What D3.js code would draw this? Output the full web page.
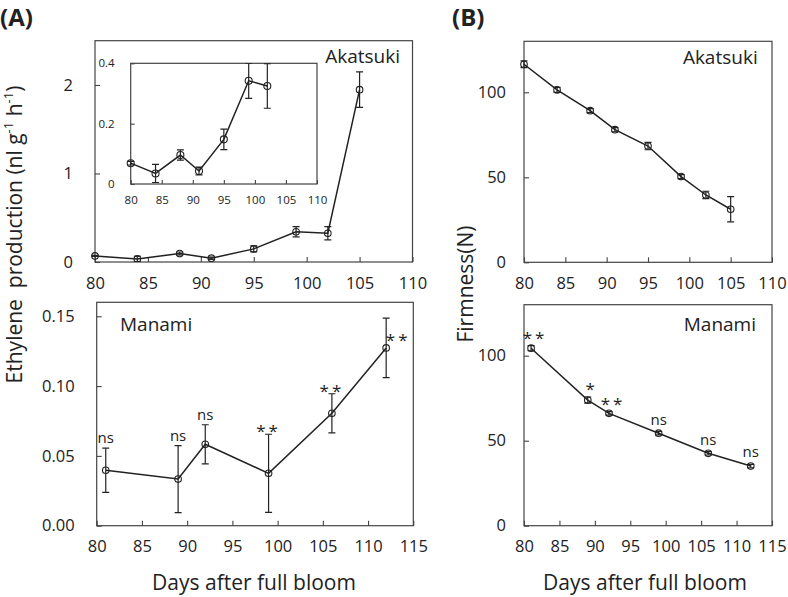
<!DOCTYPE html>
<html><head><meta charset="utf-8">
<script src="https://cdn.jsdelivr.net/npm/d3@7"></script>
<style>
body{margin:0;background:#fff}
svg{font-family:"Open Sans",sans-serif}
</style>
</head><body>
<svg id="c" width="788" height="597"></svg>
<script>
// ---------- data ----------
const akDays = [80, 84, 88, 91, 95, 99, 102, 105];
const akEthylene = [0.069, 0.035, 0.096, 0.043, 0.148, 0.342, 0.325, 1.947];
const akEthyleneErr = [0.006, 0.030, 0.017, 0.013, 0.034, 0.058, 0.074, 0.200];
const insetDays = [80, 84, 88, 91, 95, 99, 102];
const insetEthylene = [0.069, 0.035, 0.096, 0.043, 0.148, 0.342, 0.325];
const insetEthyleneErr = [0.006, 0.030, 0.017, 0.013, 0.034, 0.058, 0.074];

const mnDays = [81, 89, 92, 99, 106, 112];
const mnEthylene = [0.0397, 0.0334, 0.0583, 0.0375, 0.0805, 0.1273];
const mnEthyleneErr = [0.0158, 0.0240, 0.0140, 0.0280, 0.0140, 0.0213];
const mnEthyleneSig = ["ns", "ns", "ns", "**", "**", "**"];

const akFirmness = [116.5, 101.4, 89.2, 78.0, 68.4, 50.4, 39.6, 31.2];
const akFirmnessErr = [2.0, 1.5, 1.2, 1.2, 2.2, 1.2, 2.2, 7.4];
const mnFirmness = [104.4, 73.9, 66.1, 54.4, 42.6, 35.1];
const mnFirmnessErr = [1.5, 1.8, 1.0, 1.0, 1.0, 1.0];
const mnFirmnessSig = ["**", "*", "**", "ns", "ns", "ns"];

const xTicks110 = [80, 85, 90, 95, 100, 105, 110];
const xTicks115 = [80, 85, 90, 95, 100, 105, 110, 115];
const akEthTicks = [0, 1, 2];
const insetTicks = [0, 0.2, 0.4];
const mnEthTicks = [0, 0.05, 0.10, 0.15];
const firmTicks = [0, 50, 100];

// ---------- drawing ----------
const svg = d3.select("#c");
const INK = "#222";
let clipId = 0;

function panel(o) {
  const x = d3.scaleLinear().domain(o.xd).range(o.xr);
  const y = d3.scaleLinear().domain(o.yd).range(o.yr);
  const g = svg.append("g");
  const cid = "clip" + (clipId++);
  g.append("clipPath").attr("id", cid).append("rect")
    .attr("x", o.xr[0] - 10).attr("y", o.yr[1])
    .attr("width", o.xr[1] - o.xr[0] + 20).attr("height", o.yr[0] - o.yr[1]);
  g.append("rect")
    .attr("x", o.xr[0]).attr("y", o.yr[1])
    .attr("width", o.xr[1] - o.xr[0]).attr("height", o.yr[0] - o.yr[1])
    .attr("fill", "#fff").attr("stroke", "#444").attr("stroke-width", 1.2);

  const xa = g.append("g").attr("transform", `translate(0,${o.yr[0]})`)
    .call(d3.axisBottom(x).tickValues(o.xt).tickSize(-o.tick).tickPadding(o.xpad).tickFormat(d3.format("d")));
  const ya = g.append("g").attr("transform", `translate(${o.xr[0]},0)`)
    .call(d3.axisLeft(y).tickValues(o.yt).tickSize(-o.tick).tickPadding(o.ypad).tickFormat(o.yfmt));
  [xa, ya].forEach(a => {
    a.select(".domain").remove();
    a.selectAll("line").attr("stroke", "#444").attr("stroke-width", 1.1);
    a.selectAll("text").attr("fill", INK).style("font-size", o.fs + "px").style("font-family", '"Open Sans",sans-serif');
  });

  const pts = o.days.map((d, i) => ({ d, v: o.vals[i], e: o.errs[i] }));
  const dg = g.append("g").attr("clip-path", `url(#${cid})`);
  dg.append("path").datum(pts)
    .attr("d", d3.line().x(p => x(p.d)).y(p => y(p.v)))
    .attr("fill", "none").attr("stroke", INK).attr("stroke-width", 1.5);
  const eb = dg.selectAll(".eb").data(pts).enter().append("g");
  eb.append("line").attr("x1", p => x(p.d)).attr("x2", p => x(p.d))
    .attr("y1", p => y(p.v - p.e)).attr("y2", p => y(p.v + p.e))
    .attr("stroke", INK).attr("stroke-width", 1.2);
  [-1, 1].forEach(s => {
    eb.append("line").attr("x1", p => x(p.d) - o.cap).attr("x2", p => x(p.d) + o.cap)
      .attr("y1", p => y(p.v + s * p.e)).attr("y2", p => y(p.v + s * p.e))
      .attr("stroke", INK).attr("stroke-width", 1.2);
  });
  dg.selectAll(".pt").data(pts).enter().append("circle")
    .attr("cx", p => x(p.d)).attr("cy", p => y(p.v)).attr("r", o.r)
    .attr("fill", "none").attr("stroke", INK).attr("stroke-width", 1.1);

  if (o.sig) {
    pts.forEach((p, i) => {
      const s = o.sig[i];
      const star = s !== "ns";
      let tx = x(p.d) + (star ? o.starDx : 0);
      let ty;
      if (o.sigRight && i === pts.length - 1) {
        tx = x(p.d) + 12; ty = y(p.v) - 2;
      } else {
        ty = y(p.v + p.e) - (star ? o.starOff : o.nsOff);
      }
      g.append("text").attr("x", tx).attr("y", ty)
        .attr("text-anchor", "middle").attr("fill", INK)
        .style("font-size", (star ? 17 : 15) + "px")
        .style("letter-spacing", star ? "3px" : "0px")
        .text(s);
    });
  }
  if (o.name) {
    g.append("text").attr("x", o.nameX).attr("y", o.nameY)
      .attr("text-anchor", o.nameAnchor).attr("fill", INK)
      .style("font-size", "19px").text(o.name);
  }
  return { x, y };
}

// Panel A top
panel({ xd: [80, 110], xr: [95, 412.5], yd: [0, 2.5], yr: [262, 40.7],
  xt: xTicks110, yt: akEthTicks, yfmt: d3.format("d"), tick: 5, xpad: 15, ypad: 22, fs: 16.5,
  days: akDays, vals: akEthylene, errs: akEthyleneErr, r: 3.3, cap: 3.5,
  name: "Akatsuki", nameX: 400, nameY: 62.7, nameAnchor: "end" });

// Inset
panel({ xd: [80, 110], xr: [130.7, 317], yd: [0, 0.4], yr: [184, 63.3],
  xt: xTicks110, yt: insetTicks, yfmt: d => d === 0 ? "0" : d3.format(".1f")(d), tick: 4, xpad: 12, ypad: 16, fs: 11.5,
  days: insetDays, vals: insetEthylene, errs: insetEthyleneErr, r: 3.5, cap: 3.5 });

// Panel A bottom
panel({ xd: [80, 115], xr: [96.7, 413.3], yd: [0, 0.16], yr: [525.7, 302.3],
  xt: xTicks115, yt: mnEthTicks, yfmt: d3.format(".2f"), tick: 5, xpad: 15, ypad: 22, fs: 16.5,
  days: mnDays, vals: mnEthylene, errs: mnEthyleneErr, r: 3.3, cap: 3.5,
  sig: mnEthyleneSig, nsOff: 5, starOff: -3, starDx: 0, sigRight: true,
  name: "Manami", nameX: 120, nameY: 330.7, nameAnchor: "start" });

// Panel B top
panel({ xd: [80, 110], xr: [524, 772], yd: [0, 130], yr: [262.3, 41.3],
  xt: xTicks110, yt: firmTicks, yfmt: d3.format("d"), tick: 5, xpad: 15, ypad: 18, fs: 16.5,
  days: akDays, vals: akFirmness, errs: akFirmnessErr, r: 3.3, cap: 3.5,
  name: "Akatsuki", nameX: 757.7, nameY: 64, nameAnchor: "end" });

// Panel B bottom
panel({ xd: [80, 115], xr: [524, 772], yd: [0, 130], yr: [525.7, 304.7],
  xt: xTicks115, yt: firmTicks, yfmt: d3.format("d"), tick: 5, xpad: 15, ypad: 18, fs: 16.5,
  days: mnDays, vals: mnFirmness, errs: mnFirmnessErr, r: 3.3, cap: 3.5,
  sig: mnFirmnessSig, nsOff: 7, starOff: 2, starDx: 4, sigRight: false,
  name: "Manami", nameX: 756, nameY: 330.7, nameAnchor: "end" });

// Axis titles
const yt1 = svg.append("text").attr("transform", "translate(21.7,234.5) rotate(-90)")
  .attr("text-anchor", "middle").attr("fill", INK).style("font-size", "21px").style("white-space", "pre");
yt1.append("tspan").text("Ethylene  production (nl g");
yt1.append("tspan").attr("baseline-shift", "super").style("font-size", "13px").text("-1");
yt1.append("tspan").text(" h");
yt1.append("tspan").attr("baseline-shift", "super").style("font-size", "13px").text("-1");
yt1.append("tspan").text(")");

svg.append("text").attr("transform", "translate(473.3,284) rotate(-90)")
  .attr("text-anchor", "middle").attr("fill", INK).style("font-size", "21px").text("Firmness(N)");

svg.append("text").attr("x", 254).attr("y", 590).attr("text-anchor", "middle")
  .attr("fill", INK).style("font-size", "21px").text("Days after full bloom");
svg.append("text").attr("x", 645).attr("y", 590).attr("text-anchor", "middle")
  .attr("fill", INK).style("font-size", "21px").text("Days after full bloom");

svg.append("text").attr("x", 0).attr("y", 26).attr("fill", INK)
  .style("font-size", "24px").style("font-weight", "bold").text("(A)");
svg.append("text").attr("x", 452).attr("y", 26).attr("fill", INK)
  .style("font-size", "24px").style("font-weight", "bold").text("(B)");
</script>
</body></html>
